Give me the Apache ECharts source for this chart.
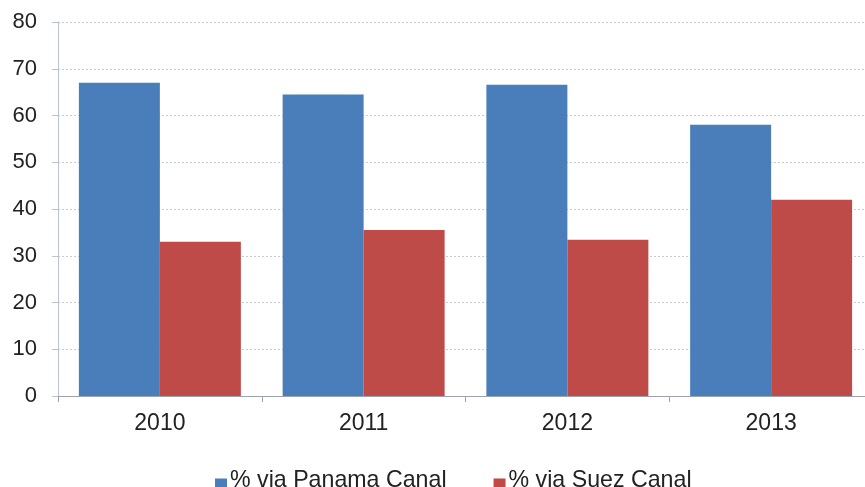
<!DOCTYPE html>
<html><head><meta charset="utf-8">
<script src="https://cdn.jsdelivr.net/npm/echarts@6/dist/echarts.min.js"></script>
<style>html,body{margin:0;padding:0;background:#fff}#c{width:865px;height:487px}</style>
</head><body><div id="c"></div>
<script>
const categories = ['2010', '2011', '2012', '2013'];
const panama = [67, 64.5, 66.6, 58];
const suez = [33, 35.5, 33.4, 42];
const yTicks = [0, 10, 20, 30, 40, 50, 60, 70, 80];

const chart = echarts.init(document.getElementById('c'));
chart.setOption({
  animation: false,
  textStyle: { fontFamily: 'Arial, Liberation Sans, sans-serif' },
  grid: { left: 58, width: 815, top: 22, bottom: 91, outerBoundsMode: 'none', containLabel: false },
  legend: {
    top: 464, left: 210,
    icon: 'path://M0,0h0.01v0.01h-0.01z M0,8h12v12h-12z', itemWidth: 12, itemHeight: 20, itemGap: 47,
    textStyle: { fontSize: 23.2, color: '#222', padding: [0, 0, 0, -2] },
    data: ['% via Panama Canal', '% via Suez Canal']
  },
  xAxis: {
    type: 'category', data: categories,
    axisLine: { lineStyle: { color: '#9aa3ad', width: 1 } },
    axisTick: { show: true, length: 6, lineStyle: { color: '#9aa3ad' } },
    axisLabel: { fontSize: 23, color: '#222', margin: 16 }
  },
  yAxis: {
    type: 'value', min: 0, max: yTicks[yTicks.length - 1], interval: 10,
    axisLine: { show: true, lineStyle: { color: '#b8c4d6' } },
    axisTick: { show: true, length: 6, lineStyle: { color: '#b8c4d6' } },
    axisLabel: { fontSize: 22, color: '#222', margin: 21 },
    splitLine: { lineStyle: { color: '#c4ccd8', type: [2, 2] } }
  },
  series: [
    { name: '% via Panama Canal', type: 'bar', data: panama, barGap: '0%', barCategoryGap: '20.5%',
      itemStyle: { color: '#4a7ebb' } },
    { name: '% via Suez Canal', type: 'bar', data: suez,
      itemStyle: { color: '#be4b48' } }
  ]
});
</script></body></html>
